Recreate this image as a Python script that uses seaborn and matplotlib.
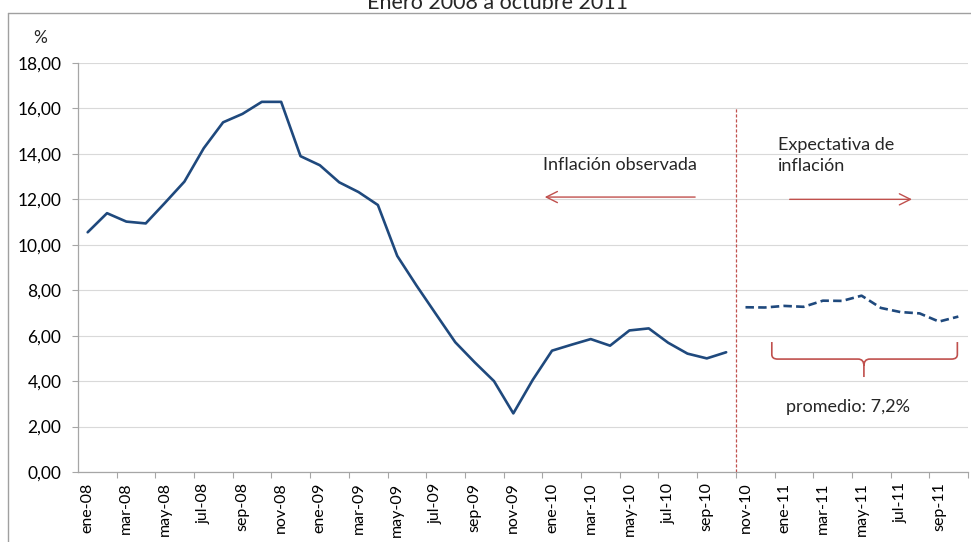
import numpy as np
import pandas as pd
import matplotlib
matplotlib.use("Agg")
import matplotlib.pyplot as plt
import seaborn as sns
from matplotlib.path import Path
from matplotlib.patches import PathPatch, FancyArrowPatch
from matplotlib.lines import Line2D

# ---------------- data ----------------
month_abbr = ["ene", "feb", "mar", "abr", "may", "jun", "jul", "ago", "sep", "oct", "nov", "dic"]
years = ["08", "09", "10", "11"]
month_labels = [f"{m}-{y}" for y in years for m in month_abbr][:46]  # ene-08 .. oct-11

observed = [10.55, 11.39, 11.02, 10.94, 11.85, 12.78, 14.25, 15.39, 15.76, 16.29,
            16.29, 13.90, 13.50, 12.75, 12.32, 11.75, 9.51, 8.20, 6.95, 5.71,
            4.83, 4.00, 2.58, 4.05, 5.34, 5.60, 5.85, 5.56, 6.23, 6.32,
            5.69, 5.21, 5.00, 5.27]
expected = [7.25, 7.24, 7.31, 7.27, 7.54, 7.53, 7.76, 7.22, 7.04, 6.98, 6.62, 6.84]

yticks = [0, 2, 4, 6, 8, 10, 12, 14, 16, 18]
title = "Enero 2008 a octubre 2011"
avg_label = "promedio: 7,2%"

# ---------------- style ----------------
sns.set_theme(style="white")
plt.rcParams["font.family"] = ["Lato", "DejaVu Sans"]

BLUE = "#1F497D"
RED = "#C0504D"
GRID = "#D9D9D9"
SPINE = "#A6A6A6"

fig = plt.figure(figsize=(9.71, 5.42), dpi=100)
ax = fig.add_axes([78 / 971, 1 - 472 / 542, 890 / 971, 409 / 542])

n_obs = len(observed)
df_obs = pd.DataFrame({"idx": np.arange(n_obs), "valor": observed})
df_exp = pd.DataFrame({"idx": np.arange(n_obs, n_obs + len(expected)), "valor": expected})

sns.lineplot(data=df_obs, x="idx", y="valor", ax=ax, color=BLUE, linewidth=1.9)
sns.lineplot(data=df_exp, x="idx", y="valor", ax=ax, color=BLUE, linewidth=1.9)
ax.lines[-1].set_dashes([3.2, 1.6])

ax.set_xlim(-0.5, len(month_labels) - 0.5)
ax.set_ylim(0, 18)

# y axis
ax.set_yticks(yticks)
ax.set_yticklabels([f"{v:.2f}".replace(".", ",") for v in yticks], fontsize=12.5)
ax.yaxis.grid(True, color=GRID, linewidth=0.8)
ax.set_axisbelow(True)
ax.tick_params(axis="y", which="major", direction="out", length=4, width=0.8,
               color=SPINE, pad=8, labelcolor="#000000", left=True)

# x axis
label_pos = list(range(0, len(month_labels), 2))
ax.set_xticks(label_pos)
ax.set_xticklabels([month_labels[i] for i in label_pos], rotation=90, fontsize=11.5)
ax.set_xticks(np.arange(1.5, len(month_labels), 2), minor=True)
ax.tick_params(axis="x", which="major", length=0, pad=7.5, labelcolor="#000000")
ax.tick_params(axis="x", which="minor", direction="out", length=4, width=0.8,
               color=SPINE, bottom=True)
ax.set_xlabel("")
ax.set_ylabel("")

for s in ["top", "right"]:
    ax.spines[s].set_visible(False)
for s in ["left", "bottom"]:
    ax.spines[s].set_color(SPINE)
    ax.spines[s].set_linewidth(0.9)

# vertical separator
ax.plot([n_obs - 0.5, n_obs - 0.5], [0, 16.07], color=RED, linewidth=0.9,
        linestyle=(0, (2.5, 1.5)), clip_on=False)

# annotations
ax.text(23.53, 13.51, "Inflación observada", fontsize=13, ha="left", va="center")
ax.text(35.67, 13.93, "Expectativa de\ninflación", fontsize=13, ha="left", va="center",
        linespacing=1.4)
ax.add_patch(FancyArrowPatch((31.54, 12.1), (23.48, 12.1), arrowstyle="->,head_length=8,head_width=4",
                             color=RED, linewidth=1.0, mutation_scale=1))
ax.add_patch(FancyArrowPatch((36.14, 12.0), (42.75, 12.0), arrowstyle="->,head_length=8,head_width=4",
                             color=RED, linewidth=1.0, mutation_scale=1))

# brace
x0, x1, xm = 35.36, 44.95, 40.12
ytop, yh, ytip = 5.72, 4.97, 4.18
verts = [(x0, ytop), (x0, yh + 0.2), (x0, yh), (x0 + 0.3, yh),
         (xm - 0.3, yh), (xm, yh), (xm, yh - 0.3), (xm, ytip),
         (xm, yh - 0.3), (xm, yh), (xm + 0.3, yh),
         (x1 - 0.3, yh), (x1, yh), (x1, yh + 0.2), (x1, ytop)]
codes = [Path.MOVETO, Path.LINETO, Path.CURVE3, Path.CURVE3,
         Path.LINETO, Path.CURVE3, Path.CURVE3, Path.LINETO,
         Path.MOVETO, Path.CURVE3, Path.CURVE3,
         Path.LINETO, Path.CURVE3, Path.CURVE3, Path.LINETO]
ax.add_patch(PathPatch(Path(verts, codes), facecolor="none", edgecolor=RED, linewidth=1.2))
ax.text(39.3, 2.87, avg_label, fontsize=13, ha="center", va="center")

# "%" label
fig.text(40 / 971, 1 - 38 / 542, "%", fontsize=12.5, ha="center", va="center")

# title (partly cut at top as in the reference)
fig.text(497 / 971, 1 - 9 / 542, title, fontsize=15.5, ha="center", va="baseline")

# outer chart border (left and top)
fig.add_artist(Line2D([8 / 971, 8 / 971], [0, 1 - 13 / 542], transform=fig.transFigure,
                      color="#A0A0A0", linewidth=1.0))
fig.add_artist(Line2D([8 / 971, 1], [1 - 13 / 542, 1 - 13 / 542], transform=fig.transFigure,
                      color="#A0A0A0", linewidth=1.0))

fig.savefig("out.png", dpi=100)
